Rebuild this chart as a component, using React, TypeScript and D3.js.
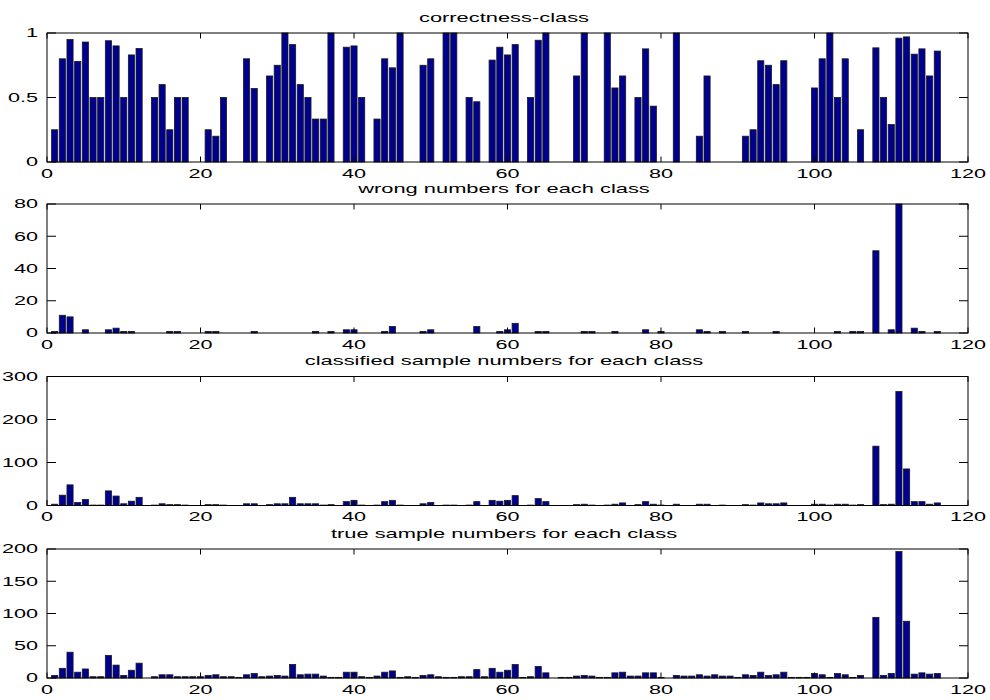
import React from 'react';
import * as d3 from 'd3';

// ---- data (class index = position + 1) ----
const correctness = [
  0.25, 0.8, 0.95, 0.78, 0.93, 0.5, 0.5, 0.94, 0.9, 0.5,
  0.83, 0.88, 0, 0.5, 0.6, 0.25, 0.5, 0.5, 0, 0,
  0.25, 0.2, 0.5, 0, 0, 0.8, 0.57, 0, 0.667, 0.75,
  1, 0.91, 0.6, 0.5, 0.333, 0.333, 1, 0, 0.89, 0.9,
  0.5, 0, 0.333, 0.8, 0.73, 1, 0, 0, 0.75, 0.8,
  0, 1, 1, 0, 0.5, 0.467, 0, 0.79, 0.89, 0.83,
  0.91, 0, 0.5, 0.944, 1, 0, 0, 0, 0.667, 1,
  0, 0, 1, 0.574, 0.667, 0, 0.5, 0.877, 0.433, 0,
  0, 1, 0, 0, 0.2, 0.667, 0, 0, 0, 0,
  0.2, 0.25, 0.785, 0.75, 0.6, 0.785, 0, 0, 0, 0.574,
  0.8, 1, 0.5, 0.8, 0, 0.25, 0, 0.885, 0.5, 0.29,
  0.96, 0.97, 0.836, 0.877, 0.667, 0.86,
];

const wrongNumbers = [
  1, 11, 10, 0, 2, 0, 0, 2, 3, 1,
  1, 0, 0, 0, 0, 1, 1, 0, 0, 0,
  1, 1, 0, 0, 0, 0, 1, 0, 0, 0,
  0, 0, 0, 0, 1, 0, 1, 0, 2, 2,
  0, 0, 0, 1, 4, 0, 0, 0, 1, 2,
  0, 0, 0, 0, 0, 4, 0, 0, 1, 2,
  6, 0, 0, 1, 1, 0, 0, 0, 0, 1,
  1, 0, 0, 1, 0, 0, 0, 2, 0, 1,
  0, 0, 0, 0, 2, 1, 0, 1, 0, 0,
  1, 0, 0, 0, 1, 0, 0, 0, 0, 0,
  0, 0, 1, 0, 1, 1, 0, 51, 0, 2,
  80, 0, 3, 1, 0, 1,
];

const classifiedNumbers = [
  3, 24, 48, 7, 14, 1, 1, 34, 22, 4,
  10, 19, 0, 1, 4, 2, 2, 1, 0, 0,
  2, 2, 1, 0, 0, 4, 4, 0, 2, 4,
  4, 19, 4, 4, 4, 1, 2, 0, 9, 12,
  1, 0, 1, 9, 12, 1, 0, 0, 4, 7,
  0, 1, 1, 0, 1, 9, 0, 12, 10, 12,
  23, 0, 1, 16, 9, 0, 0, 0, 2, 3,
  1, 0, 1, 3, 6, 0, 2, 9, 3, 1,
  0, 3, 0, 0, 3, 3, 0, 1, 0, 0,
  2, 1, 6, 4, 4, 6, 0, 0, 0, 3,
  3, 1, 3, 3, 1, 2, 0, 138, 2, 3,
  265, 85, 9, 9, 3, 6,
];

const trueNumbers = [
  4, 15, 40, 9, 14, 2, 2, 35, 20, 4,
  12, 23, 0, 2, 5, 5, 2, 2, 2, 2,
  4, 5, 2, 2, 1, 5, 7, 2, 3, 4,
  3, 21, 5, 6, 6, 3, 1, 1, 9, 9,
  2, 1, 3, 9, 11, 1, 2, 1, 4, 5,
  2, 1, 1, 2, 2, 13, 2, 15, 9, 12,
  21, 1, 2, 18, 8, 0, 1, 1, 3, 4,
  3, 1, 1, 8, 9, 3, 3, 8, 8, 1,
  0, 4, 3, 3, 5, 3, 5, 3, 3, 1,
  5, 4, 9, 4, 5, 9, 1, 1, 1, 7,
  5, 1, 7, 5, 1, 4, 0, 94, 4, 7,
  196, 88, 6, 8, 6, 7,
];

const titles = [
  'correctness-class',
  'wrong numbers for each class',
  'classified sample numbers for each class',
  'true sample numbers for each class',
];

const xTicks = [0, 20, 40, 60, 80, 100, 120];
const yTicks1 = [0, 0.5, 1];
const yTicks2 = [0, 20, 40, 60, 80];
const yTicks3 = [0, 100, 200, 300];
const yTicks4 = [0, 50, 100, 150, 200];

const panels = [
  { title: titles[0], values: correctness, yTicks: yTicks1 },
  { title: titles[1], values: wrongNumbers, yTicks: yTicks2 },
  { title: titles[2], values: classifiedNumbers, yTicks: yTicks3 },
  { title: titles[3], values: trueNumbers, yTicks: yTicks4 },
];

// ---- layout ----
const W = 990;
const H = 700;
const X0 = 47;
const X1 = 968;
const tops = [33, 204, 376.5, 549];
const PH = 129;
const FONT = "'Liberation Sans', Arial, Helvetica, sans-serif";
const FS = 12;
const SX = 1.8;
const TITLE_FS = 12.5;
const TITLE_SX = 1.75;
const BAR_FILL = '#000090';

function SText({ x, y, anchor, size = FS, sx = SX, children }: { x: number; y: number; anchor: string; size?: number; sx?: number; children: React.ReactNode }) {
  return (
    <text
      transform={`translate(${x},${y}) scale(${sx},1)`}
      textAnchor={anchor}
      fontFamily={FONT}
      fontSize={size}
      fill="#000"
    >
      {children}
    </text>
  );
}

function Panel({ idx }: { idx: number }) {
  const p = panels[idx];
  const top = tops[idx];
  const bottom = top + PH;
  const xs = d3.scaleLinear().domain([0, 120]).range([X0, X1]);
  const yMax = p.yTicks[p.yTicks.length - 1];
  const ys = d3.scaleLinear().domain([0, yMax]).range([bottom, top]);
  const half = 0.4;
  return (
    <g>
      {p.values.map((v, i) => {
        const c = i + 1;
        const x0 = xs(c - half);
        const x1 = xs(c + half);
        const yv = ys(Math.min(v, yMax));
        return (
          <rect
            key={i}
            x={x0}
            y={yv}
            width={x1 - x0}
            height={Math.max(0, ys(0) - yv)}
            fill={BAR_FILL}
            stroke="#1a1a1a"
            strokeWidth={0.8}
          />
        );
      })}
      {/* box */}
      <rect x={X0} y={top} width={X1 - X0} height={PH} fill="none" stroke="#000" strokeWidth={1} />
      {/* y ticks */}
      {p.yTicks.map((t) => (
        <g key={'y' + t}>
          <line x1={X0} x2={X0 + 9} y1={ys(t)} y2={ys(t)} stroke="#000" strokeWidth={1} />
          <line x1={X1} x2={X1 - 9} y1={ys(t)} y2={ys(t)} stroke="#000" strokeWidth={1} />
          <SText x={38} y={ys(t) + 4.3} anchor="end">{String(t)}</SText>
        </g>
      ))}
      {/* x ticks */}
      {xTicks.map((t) => (
        <g key={'x' + t}>
          <line x1={xs(t)} x2={xs(t)} y1={bottom} y2={bottom - 5.5} stroke="#000" strokeWidth={1} />
          <line x1={xs(t)} x2={xs(t)} y1={top} y2={top + 5.5} stroke="#000" strokeWidth={1} />
          <SText x={xs(t)} y={bottom + 15.5} anchor="middle">{String(t)}</SText>
        </g>
      ))}
      <SText x={504} y={top - 11.5} anchor="middle" size={TITLE_FS} sx={TITLE_SX}>{p.title}</SText>
    </g>
  );
}

export default function App() {
  return (
    <svg
      width={W}
      height={H}
      viewBox={`0 0 ${W} ${H}`}
      style={{ position: 'absolute', left: 0, top: 0, background: '#fff' }}
    >
      <rect x={0} y={0} width={W} height={H} fill="#fff" />
      {panels.map((_, i) => (
        <Panel key={i} idx={i} />
      ))}
    </svg>
  );
}
